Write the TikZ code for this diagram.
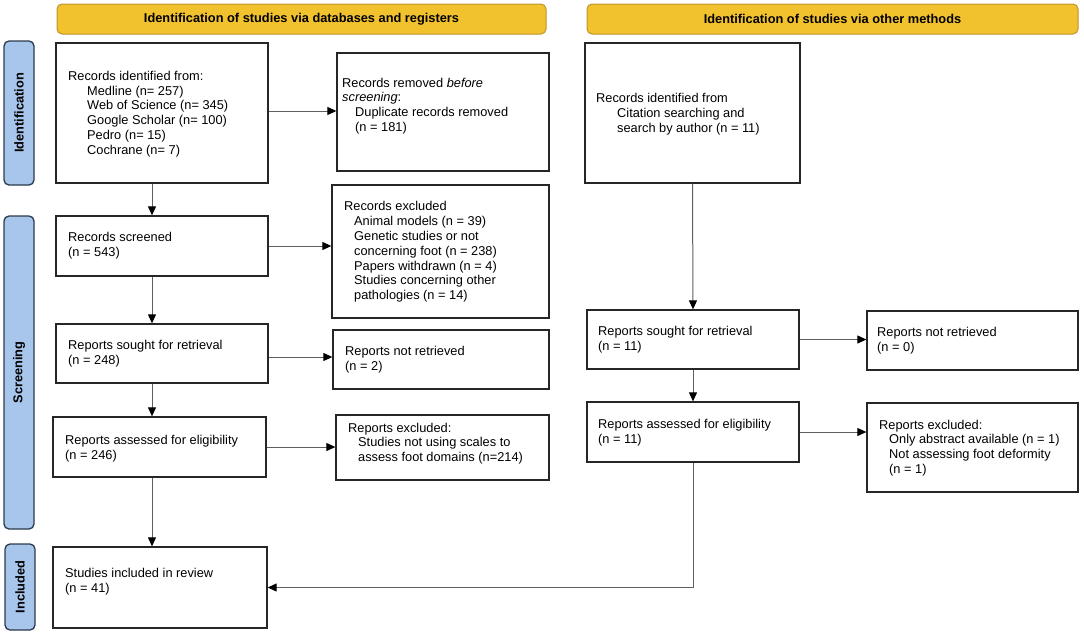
\documentclass[tikz,border=0pt]{standalone}
\usepackage{fontspec}
\setmainfont{Liberation Sans}
\usetikzlibrary{arrows.meta,calc}
\definecolor{hdrfill}{RGB}{242,193,46}
\definecolor{hdrdraw}{RGB}{190,148,40}
\definecolor{sidefill}{RGB}{168,197,235}
\definecolor{sidedraw}{RGB}{44,58,78}
\definecolor{linegray}{RGB}{95,95,95}
\begin{document}
\begin{tikzpicture}[x=1pt,y=-1pt,
  every node/.style={font=\fontsize{12.8}{14.8}\selectfont},
  box/.style={draw=black!85, line width=1.3pt, fill=white, inner sep=0pt, rectangle},
  hdr/.style={draw=hdrdraw, line width=1pt, fill=hdrfill, rounded corners=5pt, inner sep=0pt, font=\fontsize{12.8}{14.8}\selectfont\bfseries},
  sidebox/.style={draw=sidedraw, line width=1.3pt, fill=sidefill, rounded corners=5pt, inner sep=0pt},
  sidetxt/.style={rotate=90, inner sep=0pt, font=\fontsize{12.8}{14.8}\selectfont\bfseries},
  txt/.style={anchor=west, align=left, inner sep=0pt},
  arr/.style={draw=linegray, line width=1pt, -{Triangle[length=9pt,width=8pt,color=black]}}
]
\useasboundingbox (0,0) rectangle (1084,635);

% headers
\node[hdr, minimum width=489pt, minimum height=30pt] (h1) at (301.5,19) {Identification of studies via databases and registers};
\node[hdr, minimum width=491pt, minimum height=30pt] (h2) at (832.5,19) {Identification of studies via other methods};

% side labels
\node[sidebox, minimum width=30pt, minimum height=144pt] (l1) at (19,113) {};
\node[sidetxt] (l1t) at (l1) {Identification};
\node[sidebox, minimum width=30pt, minimum height=313pt] (l2) at (19,372.5) {};
\node[sidetxt] (l2t) at (l2) {Screening};
\node[sidebox, minimum width=30pt, minimum height=86pt] (l3) at (20,587) {};
\node[sidetxt] (l3t) at (l3) {Included};

% boxes left
\node[box, minimum width=212pt, minimum height=140pt] (b1) at (162,113) {};
\node[box, minimum width=212pt, minimum height=118pt] (b2) at (443,112) {};
\node[box, minimum width=212pt, minimum height=60pt] (b3) at (162,246) {};
\node[box, minimum width=217pt, minimum height=133pt] (b4) at (440.5,251.5) {};
\node[box, minimum width=212pt, minimum height=59pt] (b5) at (162,353.5) {};
\node[box, minimum width=216pt, minimum height=59pt] (b6) at (441,359.5) {};
\node[box, minimum width=213pt, minimum height=60pt] (b7) at (159.5,447) {};
\node[box, minimum width=213pt, minimum height=65pt] (b8) at (442.5,447.5) {};
\node[box, minimum width=214pt, minimum height=81pt] (b9) at (160,587.5) {};
% boxes right
\node[box, minimum width=215pt, minimum height=140pt] (r1) at (692.5,113) {};
\node[box, minimum width=212pt, minimum height=59pt] (r2) at (693,339.5) {};
\node[box, minimum width=211pt, minimum height=59pt] (r3) at (972.5,340.5) {};
\node[box, minimum width=212pt, minimum height=60pt] (r4) at (693,432) {};
\node[box, minimum width=211pt, minimum height=89pt] (r5) at (972.5,447.5) {};

% texts
\node[txt] (b1t) at (68,114) {Records identified from:\\
\hspace*{19pt}Medline (n= 257)\\
\hspace*{19pt}Web of Science (n= 345)\\
\hspace*{19pt}Google Scholar (n= 100)\\
\hspace*{19pt}Pedro (n= 15)\\
\hspace*{19pt}Cochrane (n= 7)};
\node[txt] (b2t) at (342,106) {Records removed \textit{before}\\
\textit{screening}:\\
\hspace*{13pt}Duplicate records removed\\
\hspace*{13pt}(n = 181)};
\node[txt] (b3t) at (68,245.5) {Records screened\\(n = 543)};
\node[txt] (b4t) at (344,252) {Records excluded\\
\hspace*{10pt}Animal models (n = 39)\\
\hspace*{10pt}Genetic studies or not\\
\hspace*{10pt}concerning foot (n = 238)\\
\hspace*{10pt}Papers withdrawn (n = 4)\\
\hspace*{10pt}Studies concerning other\\
\hspace*{10pt}pathologies (n = 14)};
\node[txt] (b5t) at (68,354) {Reports sought for retrieval\\(n = 248)};
\node[txt] (b6t) at (345,359.5) {Reports not retrieved\\(n = 2)};
\node[txt] (b7t) at (65,448.5) {Reports assessed for eligibility\\(n = 246)};
\node[txt] (b8t) at (348,443.5) {Reports excluded:\\
\hspace*{10pt}Studies not using scales to\\
\hspace*{10pt}assess foot domains (n=214)};
\node[txt] (b9t) at (65,581.5) {Studies included in review\\(n = 41)};
\node[txt] (r1t) at (596,114) {Records identified from\\
\hspace*{21pt}Citation searching and\\
\hspace*{21pt}search by author (n = 11)};
\node[txt] (r2t) at (598,340) {Reports sought for retrieval\\(n = 11)};
\node[txt] (r3t) at (877,341) {Reports not retrieved\\(n = 0)};
\node[txt] (r4t) at (598,432.5) {Reports assessed for eligibility\\(n = 11)};
\node[txt] (r5t) at (879,448) {Reports excluded:\\
\hspace*{10pt}Only abstract available (n = 1)\\
\hspace*{10pt}Not assessing foot deformity\\
\hspace*{10pt}(n = 1)};

% connectors
\coordinate (lx) at (152,0);
\coordinate (y1) at (0,111);
\coordinate (y3) at (0,357);
\draw[arr] (b1.south -| lx) -- (b3.north -| lx);
\draw[arr] (b3.south -| lx) -- (b5.north -| lx);
\draw[arr] (b5.south -| lx) -- (b7.north -| lx);
\draw[arr] (b7.south -| lx) -- (b9.north -| lx);
\draw[arr] (b1.east |- y1) -- (b2.west |- y1);
\draw[arr] (b3.east) -- (b3.east -| b4.west);
\draw[arr] (b5.east |- y3) -- (b6.west |- y3);
\draw[arr] (b7.east) -- (b7.east -| b8.west);
\draw[arr] (r1.south) -- (r2.north);
\draw[arr] (r2.south) -- (r4.north);
\draw[arr] (r2.east) -- (r2.east -| r3.west);
\draw[arr] (r4.east) -- (r4.east -| r5.west);
\draw[arr] (r4.south) |- (b9.east);
\end{tikzpicture}
\end{document}
